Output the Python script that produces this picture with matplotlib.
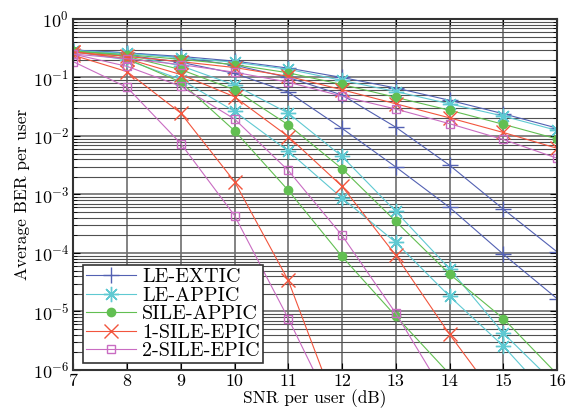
import matplotlib
matplotlib.use("Agg")
import matplotlib.pyplot as plt
import numpy as np
from matplotlib.ticker import FixedLocator, FuncFormatter, NullFormatter, LogFormatterSciNotation

plt.rcParams["font.family"] = "serif"
plt.rcParams["font.serif"] = ["cmr10", "DejaVu Serif"]
plt.rcParams["mathtext.fontset"] = "cm"
plt.rcParams["axes.formatter.use_mathtext"] = True
plt.rcParams["axes.unicode_minus"] = False

# SNR 軸
snr = np.arange(7, 17)

# 読み取り値 (log10 BER)。3つの構成 x 5 手法
# LE-EXTIC
le_extic_1 = [-0.53, -0.58, -0.64, -0.72, -0.84, -1.00, -1.18, -1.39, -1.62, -1.865]
le_extic_2 = [-0.54, -0.62, -0.74, -0.93, -1.25, -1.87, -2.53, -3.22, -4.02, -4.78]
le_extic_3 = [-0.53, -0.58, -0.66, -0.79, -1.00, -1.30, -1.85, -2.50, -3.25, -3.98]
# LE-APPIC
le_appic_1 = [-0.54, -0.59, -0.66, -0.74, -0.86, -1.05, -1.24, -1.45, -1.66, -1.905]
le_appic_2 = [-0.54, -0.62, -0.80, -1.13, -1.61, -2.35, -3.29, -4.27, -5.37, -6.27]
le_appic_3 = [-0.56, -0.70, -1.035, -1.58, -2.26, -3.06, -3.82, -4.74, -5.59, -6.60]
# SILE-APPIC
sile_appic_1 = [-0.55, -0.61, -0.69, -0.78, -0.92, -1.12, -1.34, -1.56, -1.80, -2.05]
sile_appic_2 = [-0.54, -0.64, -0.865, -1.21, -1.81, -2.56, -3.46, -4.36, -5.12, -6.07]
sile_appic_3 = [-0.55, -0.68, -1.08, -1.91, -2.93, -4.06, -5.08, -6.07]
# 1-SILE-EPIC
epic1_1 = [-0.57, -0.64, -0.73, -0.83, -0.98, -1.21, -1.45, -1.69, -1.94, -2.21]
epic1_2 = [-0.56, -0.68, -0.95, -1.33, -2.01, -2.86, -4.04, -5.39, -6.63]
epic1_3 = [-0.62, -0.90, -1.61, -2.78, -4.47, -6.90]
# 2-SILE-EPIC
epic2_1 = [-0.60, -0.68, -0.78, -0.91, -1.08, -1.32, -1.54, -1.79, -2.06, -2.38]
epic2_2 = [-0.60, -0.81, -1.15, -1.71, -2.59, -3.70, -5.03, -6.55]
epic2_3 = [-0.73, -1.17, -2.13, -3.36, -5.12, -7.00]

labels = ["LE-EXTIC", "LE-APPIC", "SILE-APPIC", "1-SILE-EPIC", "2-SILE-EPIC"]
colors = ["#5361b3", "#5fc9d2", "#62bf52", "#f2553d", "#c96cc2"]
markers = ["+", (8, 2, 0), "o", "x", "s"]
msizes = [11, 11, 6, 10, 6]
series = [
    [le_extic_1, le_extic_2, le_extic_3],
    [le_appic_1, le_appic_2, le_appic_3],
    [sile_appic_1, sile_appic_2, sile_appic_3],
    [epic1_1, epic1_2, epic1_3],
    [epic2_1, epic2_2, epic2_3],
]

y_major = 10.0 ** np.arange(-6, 1)
y_minor = [m * d for d in 10.0 ** np.arange(-6, 0) for m in range(2, 10)]

fig = plt.figure(figsize=(5.67, 4.16), dpi=100)
ax = fig.add_axes([0.1293, 0.1106, 0.8531, 0.8438])

handles = []
for lab, col, mk, ms, curves in zip(labels, colors, markers, msizes, series):
    for i, c in enumerate(curves):
        y = 10.0 ** np.array(c)
        x = snr[:len(y)]
        filled = mk == "o"
        h, = ax.semilogy(x, y, color=col, linewidth=0.8, marker=mk, markersize=ms,
                         markeredgewidth=1.0,
                         markerfacecolor=col if filled else "none",
                         markeredgecolor=col, label=lab if i == 0 else None)
        if i == 0:
            handles.append(h)

ax.set_xlim(7, 16)
ax.set_ylim(1e-6, 1)
ax.xaxis.set_major_locator(FixedLocator(snr))
ax.xaxis.set_major_formatter(FuncFormatter(lambda v, p: f"{int(v)}"))
ax.yaxis.set_major_locator(FixedLocator(y_major))
ax.yaxis.set_major_formatter(LogFormatterSciNotation())
ax.yaxis.set_minor_locator(FixedLocator(y_minor))
ax.yaxis.set_minor_formatter(NullFormatter())

ax.grid(True, which="major", color="#6e6e6e", linewidth=1.2)
ax.grid(True, which="minor", axis="y", color="#505050", linewidth=0.8)
ax.set_axisbelow(True)
ax.tick_params(which="both", direction="in", top=True, right=True, labelsize=13, pad=3)
ax.tick_params(which="major", length=5)
ax.tick_params(which="minor", length=3)
for s in ax.spines.values():
    s.set_linewidth(1.5)
    s.set_color("#333333")

ax.set_xlabel("SNR per user (dB)", fontsize=12.5, labelpad=0)
ax.set_ylabel("Average BER per user", fontsize=12.5, labelpad=2)

leg = ax.legend(handles=handles, loc="lower left", bbox_to_anchor=(0.019, 0.019),
                fontsize=14.5, fancybox=False, framealpha=1, edgecolor="#333333",
                borderpad=0.15, labelspacing=0.02, handlelength=2.5, handletextpad=0.3,
                borderaxespad=0)
leg.get_frame().set_linewidth(1.2)

fig.savefig("out.png", dpi=100)
